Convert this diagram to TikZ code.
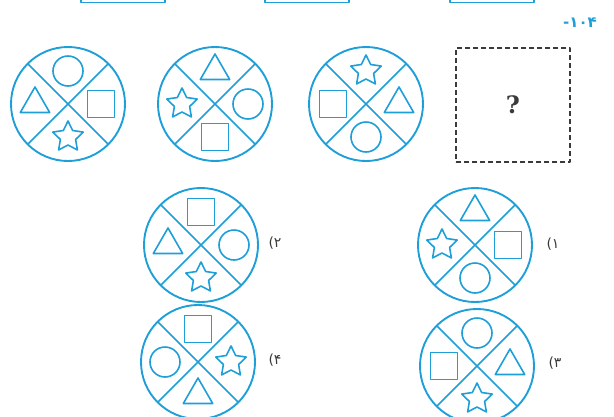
\documentclass[tikz,border=0pt]{standalone}
\usepackage{fontspec}
\newfontfamily\farsi[Script=Arabic]{DejaVu Sans}
\newfontfamily\qmark{DejaVu Serif}
\usetikzlibrary{shapes.geometric,positioning}
\definecolor{qBlue}{HTML}{1E9FD8}
\definecolor{qInk}{HTML}{3A3A3A}

\begin{document}
\begin{tikzpicture}[x=1pt, y=-1pt, line join=round,
  wheel/.style={draw=qBlue, line width=1.9pt, circle, minimum size=114pt, inner sep=0pt, outer sep=0pt},
  cut/.style={qBlue, line width=1.6pt},
  sym/.style={draw=qBlue, line width=1.6pt, inner sep=0pt},
  ci/.style={sym, circle, minimum size=30pt},
  sq/.style={sym, rectangle, minimum size=27pt},
  tr/.style={sym, regular polygon, regular polygon sides=3, minimum size=34pt},
  st/.style={sym, star, star points=5, star point ratio=2.0, minimum size=32pt},
  tab/.style={draw=qBlue, line width=1.5pt, minimum width=84pt, minimum height=20pt},
  lbl/.style={font=\farsi\fontsize{14}{16}\selectfont, text=qInk}]
\useasboundingbox (0,0) rectangle (614,416);
\clip (0,0) rectangle (614,416);

% answer tabs cut off at the top
\node[tab] (tab1) at (123,-7.5) {};
\node[tab] (tab2) at (307,-7.5) {};
\node[tab] (tab3) at (492,-7.5) {};
\node[font=\farsi\bfseries\fontsize{15}{16}\selectfont, text=qBlue] (num) at (580,23) {۱۰۴-};

% wheels: name/x/y/top/right/bottom/left
\foreach \n/\x/\y/\t/\r/\b/\l in {p1/68/104/ci/sq/st/tr, p2/215/104/tr/ci/sq/st,
    p3/366/104/st/tr/ci/sq, o2/201/245/sq/ci/st/tr, o1/475/245/tr/sq/ci/st,
    o4/198/362/sq/st/tr/ci, o3/477/366/ci/tr/st/sq}{
  \node[wheel] (\n) at (\x,\y) {};
  \draw[cut] (\n.45) -- (\n.225) (\n.135) -- (\n.315);
  \node[\t, yshift=33pt] (\n-t) at (\n) {};
  \node[\r, xshift=33pt] (\n-r) at (\n) {};
  \node[\b, yshift=-33pt] (\n-b) at (\n) {};
  \node[\l, xshift=-33pt] (\n-l) at (\n) {};
}

% missing picture
\node[draw=qInk, line width=1.2pt, dash pattern=on 5pt off 3pt, minimum size=114pt,
  font=\qmark\bfseries\fontsize{24}{26}\selectfont, text=qInk] (ask) at (513,105) {?};

% option numbers
\node[lbl] (l2) at (275,243) {۲)};
\node[lbl] (l1) at (553,244) {۱)};
\node[lbl] (l4) at (275,360) {۴)};
\node[lbl] (l3) at (555,363) {۳)};
\end{tikzpicture}
\end{document}
